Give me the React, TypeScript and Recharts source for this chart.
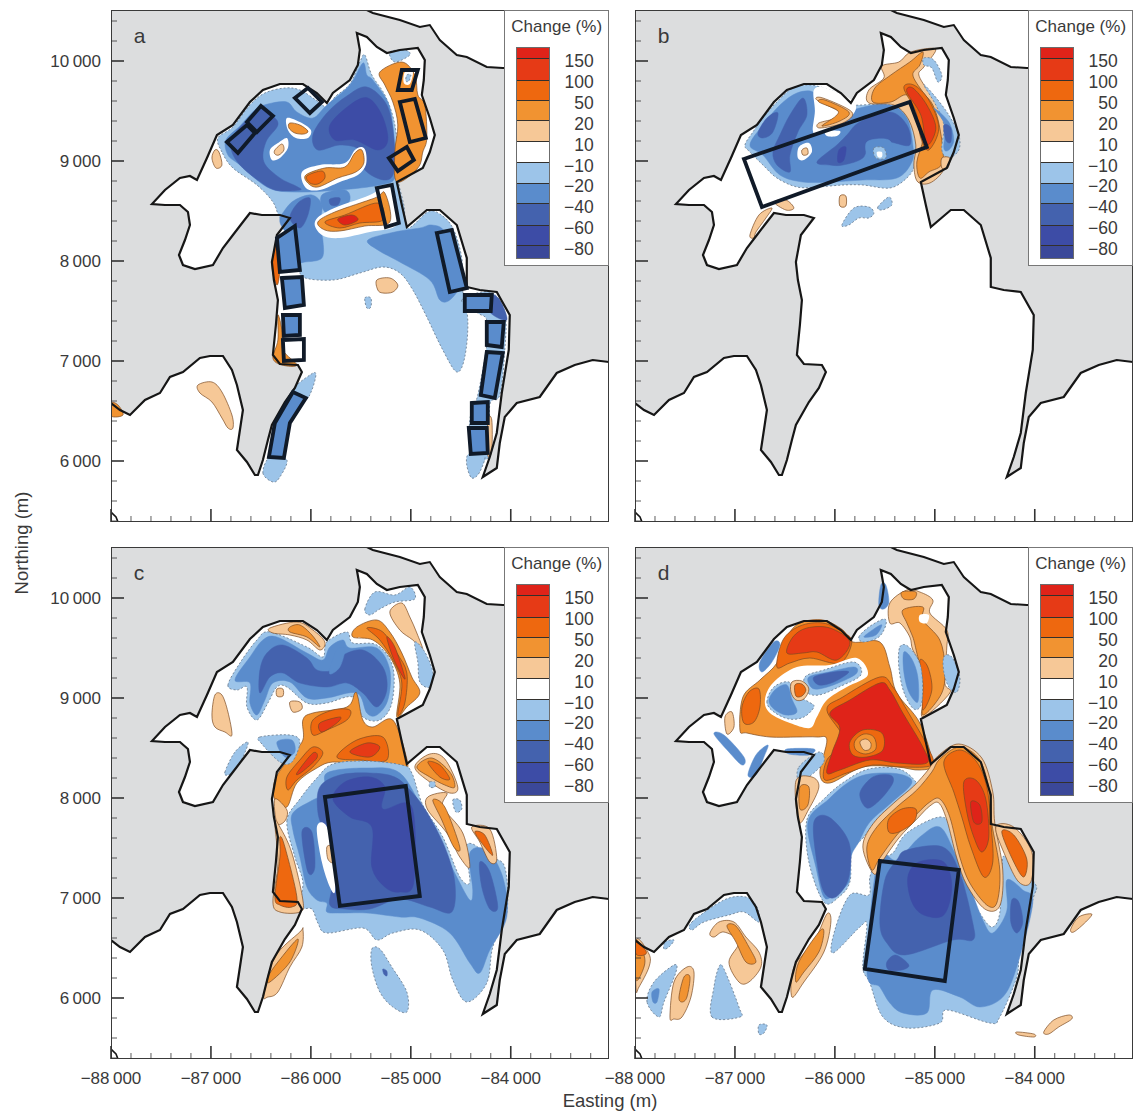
import { ScatterChart, Scatter, XAxis, YAxis } from 'recharts';

type Pair = number[];
type Fill = [number, Pair[]];
type Box = [number | null, Pair[]];

// shoreline, easting/northing in metres
const coastLine: Pair[] = [[-88000,6580],[-87910,6510],[-87810,6460],[-87660,6610],[-87510,6680],[-87410,6840],[-87280,6890],[-87110,7030],[-87010,7050],[-86880,7050],[-86790,6910],[-86740,6760],[-86680,6510],[-86710,6310],[-86740,6110],[-86640,5990],[-86560,5860],[-86530,5860],[-86480,6010],[-86430,6210],[-86390,6360],[-86260,6590],[-86160,6730],[-86090,6890],[-86130,6960],[-86310,6970],[-86380,7060],[-86350,7360],[-86330,7610],[-86370,7810],[-86390,7990],[-86340,8260],[-86210,8430],[-86310,8460],[-86490,8460],[-86610,8480],[-86680,8390],[-86780,8260],[-86880,8130],[-86980,7960],[-87160,7920],[-87280,7960],[-87320,8060],[-87260,8210],[-87210,8360],[-87230,8490],[-87310,8560],[-87460,8560],[-87590,8570],[-87460,8710],[-87310,8830],[-87210,8850],[-87140,8810],[-87040,9030],[-86940,9260],[-86780,9360],[-86610,9590],[-86480,9710],[-86310,9770],[-86080,9770],[-85940,9680],[-85840,9580],[-85780,9680],[-85610,9810],[-85530,9960],[-85510,10110],[-85540,10280],[-85440,10240],[-85340,10140],[-85240,10080],[-85110,10110],[-84930,10130],[-84860,10010],[-84870,9810],[-84890,9660],[-84810,9430],[-84760,9260],[-84810,9090],[-84880,8930],[-85010,8860],[-85140,8790],[-85090,8560],[-85040,8340],[-84840,8510],[-84710,8510],[-84540,8360],[-84440,8030],[-84440,7740],[-84310,7710],[-84140,7690],[-84010,7460],[-84020,7110],[-84090,6680],[-84140,6280],[-84210,6040],[-84280,5840],[-84140,5930],[-84110,6180],[-84060,6440],[-83940,6580],[-83710,6640],[-83540,6880],[-83360,6960],[-83180,7010],[-83017,6990]];
const northEastCoast: Pair[] = [[-85440,10510],[-85380,10480],[-85110,10410],[-84910,10340],[-84810,10360],[-84710,10210],[-84540,10060],[-84440,10040],[-84240,9940],[-84080,9930],[-83017,9930]];
const cornerCoast: Pair[] = [[-88000,5490],[-87950,5440],[-87930,5390]];

const xTicks = [-88000,-87800,-87600,-87400,-87200,-87000,-86800,-86600,-86400,-86200,-86000,-85800,-85600,-85400,-85200,-85000,-84800,-84600,-84400,-84200,-84000,-83800,-83600,-83400,-83200];
const yTicks = [5400,5600,5800,6000,6200,6400,6600,6800,7000,7200,7400,7600,7800,8000,8200,8400,8600,8800,9000,9200,9400,9600,9800,10000,10200,10400];
const xLabelled = [-88000,-87000,-86000,-85000,-84000];
const yLabelled = [6000,7000,8000,9000,10000];

const legendLevels = ['150','100','50','20','10','−10','−20','−40','−60','−80'];
const legendColours = ['#df2319','#e63a16','#ee680f','#f19331','#f6c897','#ffffff','#9cc4e9','#5a8ccc','#4462ae','#3d4ca6','#3b4899'];

const panelAFills: Fill[] = [
  [-10,[[-86890,9090],[-86930,9230],[-86780,9340],[-86610,9560],[-86460,9680],[-86260,9730],[-86110,9710],[-85950,9610],[-85840,9540],[-85760,9640],[-85610,9770],[-85510,9990],[-85460,10060],[-85390,9860],[-85260,9660],[-85170,9410],[-85130,9110],[-85130,8830],[-85070,8560],[-85030,8330],[-84830,8490],[-84710,8470],[-84580,8330],[-84490,8030],[-84490,7760],[-84430,7410],[-84460,7040],[-84540,6890],[-84680,7110],[-84840,7440],[-84980,7710],[-85110,7880],[-85280,7940],[-85510,7880],[-85780,7810],[-86080,7840],[-86110,7990],[-86160,8210],[-86310,8430],[-86380,8590],[-86540,8760],[-86780,8930]]],
  [-20,[[-86830,9060],[-86850,9210],[-86710,9350],[-86560,9510],[-86430,9570],[-86240,9590],[-86140,9490],[-85980,9430],[-85840,9560],[-85610,9760],[-85480,9980],[-85440,9860],[-85380,9810],[-85230,9590],[-85180,9360],[-85160,9090],[-85160,8830],[-85310,8760],[-85710,8710],[-86180,8690],[-86440,8740],[-86710,8960]]],
  [-20,[[-85430,8210],[-85160,8290],[-84910,8330],[-84790,8360],[-84660,8290],[-84560,7960],[-84510,7760],[-84610,7610],[-84710,7610],[-84810,7810],[-85110,7990],[-85330,8110]]],
  [-20,[[-86160,8610],[-85990,8660],[-85890,8560],[-85910,8360],[-85880,8210],[-85890,8030],[-86060,7990],[-86160,7990],[-86210,8210],[-86310,8390],[-86260,8510]]],
  [-40,[[-86210,8430],[-86130,8580],[-86010,8630],[-86030,8460],[-86110,8330]]],
  [-40,[[-86790,9230],[-86640,9410],[-86490,9530],[-86390,9460],[-86330,9360],[-86450,9190],[-86470,8990],[-86310,8830],[-86150,8750],[-86110,8710],[-86360,8710],[-86560,8830],[-86710,8960],[-86790,9090]]],
  [-40,[[-85980,9260],[-85840,9480],[-85640,9650],[-85440,9740],[-85240,9560],[-85170,9230],[-85170,8890],[-85270,8810],[-85460,8910],[-85510,9110],[-85710,9160],[-85930,9110]]],
  [-60,[[-85810,9360],[-85610,9560],[-85430,9630],[-85290,9460],[-85230,9210],[-85330,9110],[-85560,9210],[-85760,9210]]],
  [-20,[[-85890,8660],[-85660,8710],[-85610,8610],[-85710,8490],[-85860,8490]]],
  [-40,[[-85810,8620],[-85710,8630],[-85730,8560],[-85800,8560]]],
  [10,[[-86240,9430],[-86110,9390],[-86000,9310],[-86030,9230],[-86150,9230],[-86230,9310]]],
  [50,[[-86210,9380],[-86110,9360],[-86030,9300],[-86070,9270],[-86160,9280],[-86220,9330]]],
  [10,[[-86410,9110],[-86330,9180],[-86240,9230],[-86230,9130],[-86310,9030],[-86390,9010]]],
  [20,[[-86360,9110],[-86290,9170],[-86270,9110],[-86320,9060],[-86360,9070]]],
  [20,[[-86960,9110],[-86920,9090],[-86890,8960],[-86950,8930],[-86990,9030]]],
  [10,[[-86090,8890],[-85910,8960],[-85660,8980],[-85560,9110],[-85490,9140],[-85450,9090],[-85450,8960],[-85530,8860],[-85710,8790],[-85910,8710],[-86050,8730]]],
  [50,[[-86050,8860],[-85860,8930],[-85660,8940],[-85560,9080],[-85490,9110],[-85470,8980],[-85550,8890],[-85730,8830],[-85930,8740],[-86030,8780]]],
  [100,[[-86040,8850],[-85890,8900],[-85860,8830],[-85930,8770],[-86010,8780]]],
  [10,[[-85960,8390],[-85810,8510],[-85410,8660],[-85230,8760],[-85160,8610],[-85140,8360],[-85410,8290],[-85710,8230],[-85890,8260]]],
  [50,[[-85930,8390],[-85760,8490],[-85360,8630],[-85260,8680],[-85210,8390],[-85460,8350],[-85710,8300],[-85860,8310]]],
  [100,[[-85860,8390],[-85660,8460],[-85330,8580],[-85280,8410],[-85510,8380],[-85710,8330]]],
  [200,[[-85730,8420],[-85590,8460],[-85530,8410],[-85660,8360]]],
  [50,[[-85310,9890],[-85090,9990],[-84960,9860],[-84930,9660],[-84860,9560],[-84840,9230],[-84880,9090],[-84930,8930],[-85140,8790],[-85160,9090],[-85130,9360],[-85180,9590],[-85260,9760]]],
  [10,[[-85060,9890],[-84980,9890],[-85010,9770],[-85070,9780]]],
  [-10,[[-85040,9860],[-85000,9860],[-85020,9800],[-85050,9800]]],
  [-10,[[-85210,10090],[-85060,10110],[-85010,10060],[-85160,9990]]],
  [100,[[-86390,7960],[-86340,8210],[-86310,8160],[-86310,7910],[-86340,7760]]],
  [50,[[-86330,7460],[-86290,7310],[-86280,7110],[-86140,6960],[-86290,6960],[-86380,7030],[-86330,7210]]],
  [-10,[[-84490,7610],[-84210,7690],[-84060,7490],[-84060,7110],[-84110,6660],[-84210,6560],[-84210,6060],[-84390,6060],[-84410,6410],[-84330,6660],[-84240,7160],[-84240,7410],[-84330,7480]]],
  [-40,[[-84210,7660],[-84110,7610],[-84040,7410],[-84210,7490]]],
  [-10,[[-84420,6070],[-84260,6070],[-84310,5890],[-84390,5830],[-84440,5960]]],
  [20,[[-84230,6410],[-84190,6410],[-84190,6110],[-84230,6060]]],
  [-10,[[-86480,5880],[-86380,5790],[-86310,5840],[-86240,6010],[-86410,6040]]],
  [-10,[[-86180,6710],[-86010,6860],[-85950,6870],[-85990,6710],[-86060,6610]]],
  [20,[[-85340,7810],[-85210,7830],[-85130,7760],[-85180,7690],[-85280,7680],[-85330,7710]]],
  [-10,[[-85460,7630],[-85400,7630],[-85400,7540],[-85440,7530]]],
  [20,[[-87130,6760],[-86990,6790],[-86890,6690],[-86790,6460],[-86780,6330],[-86830,6330],[-86890,6430],[-86990,6590],[-87110,6680]]],
  [50,[[-88000,6580],[-87930,6560],[-87880,6460],[-88000,6450]]],
];

const panelABoxes: Box[] = [
  [-40,[[-86840,9190],[-86640,9360],[-86560,9280],[-86730,9080]]],
  [-40,[[-86640,9390],[-86500,9550],[-86380,9450],[-86540,9290]]],
  [null,[[-86160,9630],[-86030,9730],[-85890,9590],[-86010,9480]]],
  [null,[[-85090,9910],[-84930,9910],[-84990,9710],[-85130,9710]]],
  [null,[[-85110,9590],[-84960,9620],[-84850,9230],[-85010,9190]]],
  [null,[[-85220,9030],[-85040,9140],[-84970,9010],[-85130,8900]]],
  [null,[[-85340,8730],[-85190,8760],[-85120,8380],[-85250,8340]]],
  [-20,[[-86340,8230],[-86160,8350],[-86110,7910],[-86310,7890]]],
  [-20,[[-86290,7830],[-86090,7840],[-86070,7560],[-86260,7530]]],
  [-20,[[-86280,7460],[-86110,7460],[-86110,7260],[-86270,7250]]],
  [null,[[-86280,7210],[-86070,7220],[-86070,7010],[-86270,7000]]],
  [-20,[[-86180,6690],[-86050,6630],[-86210,6380],[-86270,6030],[-86420,6040],[-86360,6380]]],
  [-20,[[-84740,8280],[-84590,8310],[-84440,7730],[-84610,7690]]],
  [-20,[[-84460,7660],[-84190,7660],[-84200,7500],[-84460,7500]]],
  [-20,[[-84240,7390],[-84070,7390],[-84090,7140],[-84240,7160]]],
  [-20,[[-84240,7090],[-84080,7080],[-84160,6630],[-84300,6660]]],
  [-20,[[-84390,6580],[-84230,6590],[-84230,6380],[-84390,6380]]],
  [-20,[[-84420,6330],[-84240,6330],[-84230,6080],[-84400,6070]]],
];

const panelBFills: Fill[] = [
  [-10,[[-86900,9160],[-86820,9290],[-86720,9430],[-86580,9590],[-86420,9730],[-86250,9760],[-86050,9710],[-85880,9630],[-85850,9560],[-85450,9560],[-85250,9430],[-85180,9160],[-85200,8960],[-85280,8830],[-85450,8730],[-85720,8760],[-85920,8760],[-86180,8740],[-86380,8740],[-86580,8830],[-86720,8960],[-86850,9090]]],
  [-20,[[-86850,9160],[-86720,9360],[-86550,9560],[-86380,9680],[-86220,9690],[-86180,9560],[-86050,9490],[-86120,9390],[-85750,9530],[-85450,9560],[-85280,9430],[-85220,9160],[-85230,8990],[-85380,8830],[-85720,8810],[-86050,8790],[-86320,8790],[-86550,8860],[-86720,9060]]],
  [-40,[[-86450,9460],[-86320,9630],[-86280,9460],[-86370,9290],[-86450,9060],[-86450,8890],[-86580,8960],[-86620,9090],[-86550,9260]]],
  [-40,[[-86680,9430],[-86570,9480],[-86620,9290],[-86720,9230],[-86770,9280]]],
  [-40,[[-86180,8990],[-85980,9160],[-85880,9260],[-85750,9390],[-85450,9490],[-85280,9360],[-85250,9160],[-85450,9190],[-85650,9190],[-85720,9030],[-85920,8960],[-86050,8960]]],
  [-60,[[-85960,9110],[-85890,9140],[-85910,9010],[-85970,8990]]],
  [-20,[[-85680,9190],[-85460,9210],[-85430,9060],[-85560,8960],[-85660,9010]]],
  [-10,[[-85610,9130],[-85510,9130],[-85490,9030],[-85590,9030]]],
  [10,[[-85580,9090],[-85530,9090],[-85530,9040],[-85570,9040]]],
  [10,[[-86360,9140],[-86260,9180],[-86230,9090],[-86310,9010],[-86370,9030]]],
  [20,[[-86330,9110],[-86280,9130],[-86270,9070],[-86320,9060]]],
  [10,[[-86210,9710],[-86090,9730],[-85800,9580],[-85870,9410],[-86150,9280],[-86220,9300],[-86200,9500]]],
  [20,[[-86180,9610],[-86120,9630],[-85830,9490],[-85920,9380],[-86150,9330],[-86160,9380],[-85980,9430],[-85950,9490]]],
  [50,[[-86160,9590],[-86100,9610],[-85860,9490],[-85950,9400],[-86130,9350],[-85990,9450],[-85980,9510]]],
  [10,[[-86090,9300],[-85950,9300],[-85980,9250],[-86080,9250]]],
  [20,[[-85660,9580],[-85660,9710],[-85510,9830],[-85530,9950],[-85360,9990],[-85260,10080],[-85110,10120],[-84990,10110],[-85110,9940],[-85160,9860],[-85060,9690],[-84960,9560],[-84860,9310],[-84890,8960],[-85030,8790],[-85170,8790],[-85210,8960],[-85190,9160],[-85260,9410],[-85410,9560]]],
  [50,[[-85620,9590],[-85600,9730],[-85440,9860],[-85250,9990],[-85120,10090],[-85150,9960],[-85220,9860],[-85120,9690],[-85020,9560],[-84950,9330],[-84920,8990],[-85060,8890],[-85150,8830],[-85180,8990],[-85120,9230],[-85180,9490],[-85280,9660],[-85440,9590]]],
  [100,[[-85310,9730],[-85210,9760],[-85060,9610],[-84960,9330],[-85060,9110],[-85140,9230],[-85190,9490]]],
  [150,[[-85280,9690],[-85220,9730],[-85080,9560],[-84990,9330],[-85080,9160],[-85140,9460]]],
  [-10,[[-85110,9760],[-85010,9660],[-84860,9460],[-84760,9260],[-84760,9110],[-84860,9030],[-84930,9110],[-84910,9360],[-84990,9560]]],
  [-20,[[-85010,9530],[-84860,9390],[-84810,9210],[-84860,9110],[-84910,9130],[-84900,9360]]],
  [-40,[[-84910,9360],[-84840,9330],[-84840,9190],[-84890,9210]]],
  [-10,[[-85110,10030],[-85010,10010],[-84930,9860],[-84970,9790],[-85030,9930],[-85110,9960]]],
  [20,[[-84930,9030],[-84850,9030],[-84870,8930],[-84930,8930]]],
  [20,[[-85950,8650],[-85890,8650],[-85890,8550],[-85950,8550]]],
  [-10,[[-85930,8360],[-85810,8530],[-85660,8540],[-85610,8480],[-85660,8430],[-85760,8430],[-85860,8360]]],
  [-10,[[-85570,8540],[-85460,8640],[-85430,8560],[-85530,8510]]],
  [20,[[-86850,8260],[-86760,8460],[-86630,8530],[-86690,8430],[-86790,8290],[-86810,8230]]],
  [20,[[-86610,8590],[-86490,8610],[-86410,8530],[-86490,8510]]],
];

const panelBBoxes: Box[] = [
  [null,[[-86910,9020],[-85250,9590],[-85080,9140],[-86730,8540]]],
];

const panelCFills: Fill[] = [
  [-10,[[-86830,9130],[-86710,9350],[-86540,9580],[-86410,9660],[-86040,9510],[-85880,9410],[-85840,9560],[-85640,9660],[-85580,9550],[-85340,9530],[-85180,9310],[-85190,8950],[-85310,8780],[-85480,8810],[-85580,9010],[-85840,8950],[-86040,8950],[-86240,9110],[-86340,9110],[-86430,8950],[-86540,8780],[-86640,8910],[-86640,9110],[-86740,9080]]],
  [-20,[[-86760,9180],[-86610,9410],[-86480,9580],[-86340,9610],[-86040,9450],[-85880,9380],[-85810,9510],[-85680,9580],[-85610,9500],[-85340,9500],[-85210,9280],[-85230,8980],[-85340,8830],[-85440,8850],[-85540,9050],[-85840,9000],[-86040,9000],[-86210,9160],[-86380,9150],[-86460,8980],[-86540,8830],[-86610,8950],[-86610,9150]]],
  [-40,[[-86510,9280],[-86440,9450],[-86280,9530],[-86040,9400],[-85940,9280],[-85780,9280],[-85710,9410],[-85480,9480],[-85280,9310],[-85240,9080],[-85340,8910],[-85480,9050],[-85640,9150],[-85840,9110],[-86110,9150],[-86280,9250],[-86410,9210],[-86510,9050]]],
  [-20,[[-85790,9360],[-85730,9490],[-85660,9490],[-85710,9310],[-85810,9240]]],
  [20,[[-86410,9700],[-86140,9760],[-85980,9680],[-85860,9560],[-85910,9480],[-86040,9580],[-86210,9630],[-86380,9650]]],
  [50,[[-86210,9710],[-86110,9730],[-85990,9630],[-85910,9510],[-86040,9610],[-86210,9660]]],
  [50,[[-85580,9610],[-85540,9710],[-85340,9780],[-85210,9660],[-85090,9450],[-84990,9210],[-84910,9050],[-85040,8910],[-85140,8810],[-85110,9150],[-85210,9410],[-85380,9580]]],
  [100,[[-85440,9700],[-85280,9660],[-85140,9450],[-85040,9250],[-85060,8950],[-85130,8830],[-85090,9150],[-85180,9380],[-85310,9580]]],
  [150,[[-85240,9610],[-85160,9510],[-85060,9210],[-85090,9230],[-85180,9410]]],
  [20,[[-85210,9860],[-85090,9950],[-85010,9810],[-84940,9650],[-84880,9480],[-84980,9580],[-85110,9680]]],
  [-10,[[-85460,9890],[-85360,10060],[-85160,10030],[-85010,10110],[-84960,9990],[-85160,9960],[-85310,9890],[-85410,9830]]],
  [-10,[[-84960,9560],[-84860,9460],[-84780,9260],[-84810,9110],[-84910,9160],[-84930,9360]]],
  [50,[[-86080,8780],[-85980,8850],[-85640,8910],[-85560,9050],[-85530,9010],[-85480,8780],[-85380,8710],[-85180,8780],[-85040,8390],[-85060,8280],[-85240,8300],[-85510,8330],[-85780,8360],[-85940,8300],[-86140,8150],[-86240,7910],[-86360,7980],[-86360,8180],[-86210,8410],[-86080,8580]]],
  [100,[[-85980,8780],[-85780,8880],[-85610,8880],[-85640,8780],[-85840,8680],[-85980,8630]]],
  [150,[[-85910,8750],[-85710,8810],[-85740,8750],[-85890,8660]]],
  [100,[[-85740,8410],[-85540,8580],[-85280,8610],[-85240,8380],[-85510,8380]]],
  [150,[[-85610,8460],[-85440,8550],[-85310,8510],[-85410,8410]]],
  [100,[[-86240,8210],[-86110,8380],[-85980,8510],[-85880,8450],[-85980,8310],[-86140,8180],[-86230,8080]]],
  [150,[[-86140,8250],[-85980,8450],[-85940,8400],[-86090,8260]]],
  [-10,[[-86510,8610],[-86210,8630],[-86110,8560],[-86190,8360],[-86310,8360],[-86490,8540]]],
  [-20,[[-86340,8560],[-86190,8580],[-86160,8460],[-86260,8410]]],
  [-10,[[-86860,8260],[-86760,8460],[-86630,8560],[-86680,8410],[-86760,8280],[-86830,8230]]],
  [20,[[-86960,9030],[-86890,9030],[-86830,8860],[-86790,8630],[-86860,8660],[-86960,8710],[-86990,8830]]],
  [20,[[-86340,9090],[-86280,9090],[-86280,9020],[-86340,9020]]],
  [20,[[-86210,8960],[-86110,8960],[-86090,8890],[-86180,8860]]],
  [-10,[[-86240,7770],[-86110,7990],[-85940,8200],[-85780,8340],[-85450,8370],[-85090,8330],[-84990,8250],[-84880,7930],[-84680,7610],[-84510,7210],[-84410,7160],[-84450,7490],[-84380,7540],[-84210,7410],[-84060,7310],[-84040,6850],[-84180,6510],[-84240,6150],[-84440,5960],[-84580,6180],[-84680,6480],[-84910,6680],[-85180,6650],[-85340,6580],[-85480,6700],[-85840,6650],[-85930,6750],[-85990,6890],[-86110,6910],[-86080,7160],[-86160,7410]]],
  [-20,[[-86180,7850],[-85980,7980],[-85840,8050],[-85840,8250],[-85440,8300],[-85110,8250],[-84880,7880],[-84710,7550],[-84540,7210],[-84410,6980],[-84380,7080],[-84410,7450],[-84240,7480],[-84080,7210],[-84040,6810],[-84210,6480],[-84310,6250],[-84410,6350],[-84610,6650],[-84910,6800],[-85110,6810],[-85440,6850],[-85710,6850],[-85840,6860],[-85840,6950],[-85940,6980],[-86040,7110],[-86110,7410],[-86180,7680]]],
  [-40,[[-85910,8110],[-85710,8230],[-85410,8250],[-85160,8210],[-84990,8060],[-84840,7860],[-84660,7510],[-84560,7160],[-84590,6860],[-84810,6910],[-85110,6990],[-85410,6890],[-85660,6890],[-85810,6930],[-85790,7160],[-85860,7610],[-85930,7860]]],
  [-60,[[-85780,7990],[-85660,8160],[-85410,8210],[-85260,8110],[-85280,7890],[-84990,7910],[-84970,7160],[-85110,7060],[-85260,7110],[-85390,7310],[-85390,7710],[-85610,7810]]],
  [-40,[[-86090,7660],[-85990,7660],[-85960,7310],[-86030,7260]]],
  [-40,[[-84310,7360],[-84210,7260],[-84130,6910],[-84210,6890],[-84290,7110]]],
  [10,[[-85940,7710],[-85840,7710],[-85760,7310],[-85760,7060],[-85810,7110],[-85890,7360]]],
  [20,[[-85840,7510],[-85790,7510],[-85780,7360],[-85830,7390]]],
  [20,[[-86360,7990],[-86240,7880],[-86260,7770],[-86340,7750]]],
  [20,[[-86360,7750],[-86310,7710],[-86190,7450],[-86080,6980],[-86110,6860],[-86310,6860],[-86380,6960],[-86330,7350]]],
  [100,[[-86310,7610],[-86260,7510],[-86140,7010],[-86190,6910],[-86310,6930],[-86360,7010],[-86310,7410]]],
  [20,[[-84960,8310],[-84810,8440],[-84660,8390],[-84530,8110],[-84610,8050],[-84810,8160]]],
  [50,[[-84940,8310],[-84790,8400],[-84610,8260],[-84560,8110],[-84660,8130],[-84810,8210]]],
  [100,[[-84830,8360],[-84710,8330],[-84610,8190],[-84710,8210]]],
  [20,[[-84830,8010],[-84640,8050],[-84680,7910],[-84480,7650],[-84410,7310],[-84510,7410],[-84640,7650],[-84830,7880]]],
  [50,[[-84780,7980],[-84660,7910],[-84510,7510],[-84570,7510],[-84690,7780]]],
  [-10,[[-84580,7980],[-84510,7980],[-84490,7890],[-84550,7860]]],
  [-10,[[-84810,8160],[-84760,8160],[-84760,8110],[-84810,8110]]],
  [20,[[-84390,7710],[-84210,7690],[-84140,7390],[-84210,7360],[-84310,7560]]],
  [100,[[-84360,7660],[-84260,7630],[-84180,7430],[-84260,7510]]],
  [20,[[-86470,6030],[-86360,6410],[-86110,6660],[-86080,6690],[-86090,6510],[-86210,6310],[-86330,6060],[-86430,6010]]],
  [50,[[-86430,6210],[-86330,6360],[-86130,6590],[-86210,6360],[-86410,6160]]],
  [-10,[[-85390,6490],[-85310,6490],[-85190,6310],[-85040,6060],[-85040,5860],[-85180,5910],[-85310,6060],[-85390,6310]]],
  [-40,[[-85280,6290],[-85240,6270],[-85240,6220],[-85270,6240]]],
];

const panelCBoxes: Box[] = [
  [null,[[-85860,8010],[-85050,8120],[-84910,7020],[-85710,6920]]],
];

const panelDFills: Fill[] = [
  [50,[[-86950,8680],[-86920,9010],[-86750,9180],[-86580,9350],[-86480,9610],[-86350,9750],[-86120,9780],[-85920,9680],[-85820,9560],[-85550,9560],[-85450,9310],[-85380,9050],[-85150,8750],[-85030,8350],[-85150,8280],[-85380,8310],[-85720,8310],[-86050,8150],[-86150,8250],[-86080,8580],[-86180,8610],[-86380,8610],[-86650,8610],[-86880,8650]]],
  [100,[[-86580,9310],[-86520,9580],[-86350,9720],[-86120,9750],[-85920,9660],[-85830,9560],[-85950,9350],[-86250,9400],[-86450,9350]]],
  [150,[[-86480,9450],[-86420,9610],[-86280,9700],[-86050,9700],[-85850,9560],[-85980,9380],[-86180,9460],[-86320,9450]]],
  [10,[[-86700,8980],[-86620,9150],[-86380,9310],[-86050,9330],[-85780,9400],[-85670,9230],[-85880,9110],[-86080,8980],[-86180,8810],[-86250,8700],[-86450,8750],[-86650,8850]]],
  [-10,[[-86300,9210],[-86110,9280],[-85810,9360],[-85740,9230],[-85960,9110],[-86160,9030],[-86280,9060]]],
  [-20,[[-86260,9210],[-86060,9260],[-85810,9310],[-85790,9240],[-85990,9140],[-86160,9090],[-86240,9110]]],
  [-40,[[-86210,9210],[-86010,9260],[-85860,9260],[-86010,9160],[-86160,9130]]],
  [-10,[[-86680,8960],[-86610,9110],[-86460,9160],[-86390,9030],[-86260,8960],[-86210,8910],[-86310,8810],[-86460,8790],[-86610,8860]]],
  [-20,[[-86660,8980],[-86590,9090],[-86480,9130],[-86430,8990],[-86380,8860],[-86490,8830],[-86610,8890]]],
  [20,[[-86430,9160],[-86330,9170],[-86260,9090],[-86310,8990],[-86390,8980],[-86440,9060]]],
  [100,[[-86400,9130],[-86330,9140],[-86290,9080],[-86330,9020],[-86390,9020]]],
  [100,[[-86930,8910],[-86860,9060],[-86760,9090],[-86750,8910],[-86810,8760],[-86910,8750]]],
  [100,[[-86080,8880],[-85920,9010],[-85550,9210],[-85420,9110],[-85280,8880],[-85070,8510],[-85030,8330],[-85320,8310],[-85620,8330],[-85880,8250],[-86100,8180],[-86080,8380],[-85910,8580]]],
  [200,[[-86050,8850],[-85850,8980],[-85550,9150],[-85450,9080],[-85320,8850],[-85120,8510],[-85080,8350],[-85380,8350],[-85650,8380],[-85950,8280],[-86080,8250],[-86030,8450],[-85950,8700]]],
  [100,[[-85850,8560],[-85720,8680],[-85530,8650],[-85520,8480],[-85680,8410],[-85820,8430]]],
  [50,[[-85800,8570],[-85710,8640],[-85610,8610],[-85590,8490],[-85690,8440],[-85790,8480]]],
  [20,[[-85750,8560],[-85690,8590],[-85640,8550],[-85650,8490],[-85710,8480]]],
  [20,[[-85450,9950],[-85280,10080],[-85150,10060],[-85020,9980],[-85050,9850],[-84880,9680],[-84880,9510],[-84900,9150],[-84850,9050],[-85120,8810],[-85100,9050],[-85110,9280],[-85220,9480],[-85250,9610],[-85350,9750],[-85450,9750]]],
  [50,[[-85320,9880],[-85120,9910],[-85120,9780],[-84950,9580],[-84900,9310],[-84930,9050],[-85120,8830],[-85100,9110],[-85180,9450],[-85220,9610],[-85280,9750]]],
  [100,[[-85150,9380],[-85070,9310],[-85030,9080],[-85120,8880],[-85120,9150]]],
  [10,[[-85150,9830],[-85060,9830],[-85080,9750],[-85150,9760]]],
  [50,[[-85330,10060],[-85190,10060],[-85210,9990],[-85310,9990]]],
  [-10,[[-85350,9510],[-85260,9510],[-85140,9310],[-85130,8960],[-85210,8890],[-85310,9060],[-85360,9310]]],
  [-20,[[-85310,9460],[-85230,9390],[-85170,9210],[-85170,8960],[-85260,9060],[-85310,9260]]],
  [-10,[[-85760,9610],[-85660,9710],[-85510,9790],[-85490,9730],[-85560,9610],[-85710,9560]]],
  [-20,[[-85710,9610],[-85610,9690],[-85530,9730],[-85590,9630]]],
  [-20,[[-85540,10130],[-85490,10130],[-85460,9960],[-85510,9890],[-85560,9930]]],
  [-10,[[-84910,9410],[-84830,9410],[-84750,9210],[-84780,9060],[-84860,9110],[-84910,9260]]],
  [-20,[[-86750,9360],[-86610,9560],[-86550,9530],[-86630,9360],[-86730,9260]]],
  [20,[[-87100,8810],[-87030,8860],[-87010,8710],[-87080,8640]]],
  [-20,[[-87210,8640],[-87110,8630],[-86910,8410],[-86930,8330],[-87060,8460]]],
  [-20,[[-86870,8230],[-86790,8430],[-86670,8530],[-86710,8410],[-86790,8230]]],
  [-20,[[-86480,8490],[-86210,8490],[-86260,8430],[-86460,8440]]],
  [-10,[[-86360,8310],[-86160,8460],[-86110,8360],[-86260,8210],[-86360,8160]]],
  [20,[[-86390,8170],[-86230,8210],[-86160,8110],[-86260,7890],[-86360,7760]]],
  [50,[[-86350,8110],[-86260,8110],[-86270,7930],[-86350,7890]]],
  [-10,[[-86280,7780],[-86110,7990],[-85910,8160],[-85660,8290],[-85360,8290],[-85190,8160],[-85190,8060],[-85510,7860],[-85710,7610],[-85830,7460],[-85850,7160],[-85960,7010],[-86110,6960],[-86260,7360]]],
  [-10,[[-85720,6310],[-85650,6150],[-85520,5810],[-85280,5700],[-84950,5750],[-84880,5880],[-84450,5750],[-84350,5810],[-84180,6210],[-84150,6480],[-84020,6980],[-84000,7150],[-84280,7410],[-84330,7310],[-84350,6850],[-84430,6710],[-84550,6850],[-84650,7050],[-84720,7350],[-84820,7680],[-84950,7810],[-85280,7650],[-85420,7450],[-85570,7380],[-85650,7210],[-85660,7030],[-85850,7030],[-86000,6680],[-86020,6450],[-85750,6710],[-85680,6730]]],
  [-20,[[-86270,7760],[-86060,7990],[-85860,8160],[-85660,8240],[-85360,8240],[-85230,8150],[-85450,7940],[-85650,7760],[-85760,7560],[-85840,7410],[-85860,7160],[-86010,7030],[-86110,7010],[-86190,7310]]],
  [-40,[[-86210,7760],[-86060,7810],[-85860,7560],[-85860,7210],[-85990,7010],[-86110,7060],[-86180,7360]]],
  [-40,[[-85750,8050],[-85620,8210],[-85450,8230],[-85420,8150],[-85550,7980],[-85680,7900]]],
  [-20,[[-85380,7380],[-85150,7610],[-84950,7710],[-84800,7450],[-84650,7110],[-84520,6780],[-84420,6650],[-84280,6870],[-84280,7180],[-84120,7080],[-84020,6950],[-84180,6310],[-84320,6010],[-84550,5910],[-84750,6010],[-85020,6080],[-85080,5850],[-85320,5850],[-85450,5950],[-85550,6110],[-85680,6280],[-85570,7380]]],
  [-40,[[-85380,7380],[-85280,7480],[-84920,7510],[-84750,7250],[-84620,6750],[-84620,6580],[-84820,6580],[-85300,6430],[-85480,6550],[-85550,6750],[-85500,7180]]],
  [-60,[[-85270,7210],[-85160,7360],[-84910,7360],[-84830,7110],[-84910,6830],[-85110,6830],[-85230,6960]]],
  [-40,[[-85480,6360],[-85390,6430],[-85260,6330],[-85330,6280],[-85460,6280]]],
  [-40,[[-84230,6980],[-84160,6960],[-84120,6760],[-84180,6650],[-84240,6760]]],
  [20,[[-85720,7510],[-85620,7740],[-85410,7950],[-85210,8120],[-85060,8290],[-84970,8420],[-84760,8540],[-84530,8400],[-84420,8060],[-84400,7750],[-84320,7280],[-84350,6920],[-84500,6890],[-84680,7130],[-84780,7400],[-84880,7780],[-84960,7950],[-85050,7920],[-85170,7800],[-85360,7600],[-85530,7360],[-85610,7240]]],
  [50,[[-85680,7510],[-85580,7710],[-85380,7910],[-85180,8080],[-85030,8260],[-84950,8390],[-84750,8510],[-84550,8380],[-84450,8050],[-84430,7750],[-84350,7280],[-84380,6950],[-84480,6930],[-84650,7150],[-84750,7410],[-84850,7810],[-84950,7990],[-85050,7960],[-85180,7840],[-85380,7630],[-85550,7400],[-85630,7280]]],
  [100,[[-84910,8360],[-84750,8480],[-84580,8360],[-84480,8110],[-84440,7760],[-84420,7360],[-84510,7210],[-84640,7510],[-84730,7810],[-84810,8060]]],
  [150,[[-84710,8160],[-84590,8180],[-84490,7990],[-84460,7610],[-84530,7460],[-84610,7610],[-84680,7860]]],
  [200,[[-84640,7960],[-84550,7930],[-84530,7760],[-84610,7760]]],
  [100,[[-85460,7790],[-85330,7890],[-85190,7890],[-85210,7760],[-85360,7660],[-85460,7660]]],
  [20,[[-84390,7710],[-84210,7710],[-84030,7460],[-84040,7160],[-84160,7160],[-84290,7410]]],
  [100,[[-84330,7660],[-84210,7630],[-84080,7390],[-84110,7210],[-84210,7360]]],
  [20,[[-86430,6010],[-86410,6310],[-86210,6560],[-86080,6840],[-86040,6760],[-86110,6460],[-86310,6160]]],
  [50,[[-86390,6160],[-86360,6360],[-86160,6660],[-86110,6660],[-86160,6460],[-86310,6260]]],
  [20,[[-87250,6650],[-87160,6760],[-87010,6760],[-86890,6610],[-86760,6460],[-86740,6310],[-86860,6160],[-86960,6160],[-87060,6360],[-86960,6560],[-87110,6660],[-87210,6610]]],
  [50,[[-87080,6720],[-86990,6720],[-86860,6510],[-86790,6360],[-86890,6360],[-86990,6560]]],
  [20,[[-87650,5810],[-87610,6160],[-87480,6310],[-87410,6260],[-87440,6010],[-87530,5810],[-87610,5790]]],
  [50,[[-87560,6010],[-87510,6210],[-87450,6210],[-87480,6010],[-87530,5960]]],
  [-10,[[-87230,5810],[-87210,6110],[-87160,6310],[-87110,6290],[-86960,5910],[-86950,5810]]],
  [-10,[[-87880,5960],[-87810,6160],[-87610,6330],[-87590,6260],[-87710,5960],[-87760,5810]]],
  [-20,[[-87830,6060],[-87760,6090],[-87780,5960],[-87820,5960]]],
  [20,[[-87990,6580],[-87860,6440],[-87860,6310],[-87960,6110],[-87990,6090]]],
  [50,[[-87990,6560],[-87910,6430],[-87910,6310],[-87990,6180]]],
  [100,[[-87990,6580],[-87890,6470],[-87910,6430],[-87990,6440]]],
  [-10,[[-87430,6760],[-87110,6980],[-86890,7010],[-86780,6910],[-86760,6760],[-86910,6860],[-87060,6830],[-87310,6760],[-87430,6680]]],
  [-10,[[-87700,6560],[-87610,6580],[-87660,6510],[-87710,6490]]],
  [-10,[[-86760,5730],[-86680,5730],[-86710,5650],[-86760,5640]]],
  [20,[[-83910,5660],[-83810,5780],[-83660,5830],[-83630,5790],[-83760,5710],[-83860,5640]]],
  [20,[[-84180,5660],[-84010,5640],[-84010,5610],[-84160,5630]]],
  [20,[[-83640,6690],[-83560,6810],[-83430,6840],[-83490,6760],[-83610,6660]]],
];

const panelDBoxes: Box[] = [
  [null,[[-85550,7370],[-84760,7280],[-84900,6170],[-85700,6290]]],
];

const xMin = -88000;
const xMax = -83017;
const yMin = 5390;
const yMax = 10510;

const toRows = (pts: Pair[]) => pts.map(([x, y]) => ({ x, y }));
const noDot = () => <g />;

const fillColour: Record<string, string> = {
  '200': '#df2319', '150': '#e63a16', '100': '#ee680f', '50': '#f19331', '20': '#f6c897', '10': '#ffffff',
  '-10': '#9cc4e9', '-20': '#5a8ccc', '-40': '#4462ae', '-60': '#3d4ca6',
};

function outline(level: number) {
  if (level === 10) return { stroke: 'none' };
  if (level === -10) return { stroke: '#6f8296', strokeWidth: 0.9, strokeDasharray: '2 2' };
  if (level < 0) return { stroke: fillColour[level], strokeWidth: 0.5 };
  return { stroke: '#7b4a22', strokeWidth: 0.7 };
}

// closed catmull-rom through the scaled points the Scatter hands to its line
function closedSpline(pts: { x: number; y: number }[]) {
  const n = pts.length;
  let d = `M${pts[0].x},${pts[0].y}`;
  for (let i = 0; i < n; i++) {
    const p0 = pts[(i - 1 + n) % n];
    const p1 = pts[i];
    const p2 = pts[(i + 1) % n];
    const p3 = pts[(i + 2) % n];
    const c1x = p1.x + (p2.x - p0.x) / 6;
    const c1y = p1.y + (p2.y - p0.y) / 6;
    const c2x = p2.x - (p3.x - p1.x) / 6;
    const c2y = p2.y - (p3.y - p1.y) / 6;
    d += `C${c1x},${c1y} ${c2x},${c2y} ${p2.x},${p2.y}`;
  }
  return d + 'Z';
}

const blobLine = (level: number) => (props: any) => (
  <path d={closedSpline(props.points)} fill={fillColour[level]} {...outline(level)} />
);

function XTick({ x, y, payload, labelled }: any) {
  const major = xLabelled.includes(payload.value);
  return (
    <g>
      <line x1={x} x2={x} y1={y} y2={y - (major ? 13 : 6)} stroke="#333" strokeWidth={major ? 1.6 : 0.8} />
      {labelled && major && (
        <text x={x} y={y + 25} textAnchor="middle" fontSize={17} fill="#3a3a3a">
          {'−' + Math.abs(payload.value / 1000) + '\u2009000'}
        </text>
      )}
    </g>
  );
}

function YTick({ x, y, payload, labelled }: any) {
  const major = yLabelled.includes(payload.value);
  return (
    <g>
      <line x1={x} x2={x + (major ? 13 : 6)} y1={y} y2={y} stroke="#333" strokeWidth={major ? 1.6 : 0.8} />
      {labelled && major && (
        <text x={x - 10} y={y + 6} textAnchor="end" fontSize={17} fill="#3a3a3a">
          {payload.value / 1000 + '\u2009000'}
        </text>
      )}
    </g>
  );
}

function ChangeLegend({ left, top }: { left: number; top: number }) {
  const heights = [11, 22, 20, 20, 21, 21, 21, 20, 22, 20, 12];
  return (
    <div style={{ position: 'absolute', left, top, width: 105, height: 256, background: '#fff', border: '1.5px solid #777', boxSizing: 'border-box' }}>
      <div style={{ position: 'absolute', left: 0, width: 104, top: 6, textAlign: 'center', fontSize: 17, color: '#3a3a3a', whiteSpace: 'nowrap' }}>Change (%)</div>
      <div style={{ position: 'absolute', left: 11, top: 36, width: 32, border: '1px solid #6c6c6c' }}>
        {legendColours.map((c, i) => (
          <div key={c} style={{ height: heights[i], background: c, boxSizing: 'border-box', borderBottom: i < 10 ? '1px solid #33302c' : 'none' }} />
        ))}
      </div>
      {legendLevels.map((t, i) => (
        <div key={t} style={{ position: 'absolute', right: 14, top: 41 + i * 20.9, fontSize: 17.5, lineHeight: '18px', color: '#3a3a3a' }}>{t}</div>
      ))}
    </div>
  );
}

function Panel({ left, top, letter, fills, boxes, xLabels, yLabels }: { left: number; top: number; letter: string; fills: Fill[]; boxes: Box[]; xLabels: boolean; yLabels: boolean }) {
  const land = toRows([[xMin, yMin], [xMin, yMax], [xMax, yMax], [xMax, yMin]]);
  const sea = toRows([...coastLine, [xMax, yMin], [xMin, yMin]]);
  const bay = toRows([...northEastCoast, [xMax, yMax]]);
  return (
    <>
      <div style={{ position: 'absolute', left: left - 60, top: top - 10 }}>
        <ScatterChart width={560} height={562} margin={{ top: 10, right: 2, bottom: 0, left: 0 }}>
          <XAxis type="number" dataKey="x" domain={[xMin, xMax]} ticks={xTicks} interval={0} height={40} axisLine={false} tickLine={false} tickSize={0} tickMargin={0} allowDataOverflow tick={<XTick labelled={xLabels} />} />
          <YAxis type="number" dataKey="y" domain={[yMin, yMax]} ticks={yTicks} interval={0} width={60} axisLine={false} tickLine={false} tickSize={0} tickMargin={0} allowDataOverflow tick={<YTick labelled={yLabels} />} />
          <Scatter data={land} shape={noDot} isAnimationActive={false} line={{ fill: '#dcddde', stroke: 'none' }} lineJointType="linearClosed" />
          <Scatter data={sea} shape={noDot} isAnimationActive={false} line={{ fill: '#ffffff', stroke: 'none' }} lineJointType="linearClosed" />
          <Scatter data={bay} shape={noDot} isAnimationActive={false} line={{ fill: '#ffffff', stroke: 'none' }} lineJointType="linearClosed" />
          {fills.map(([level, pts], i) => (
            <Scatter key={i} data={toRows(pts)} shape={noDot} isAnimationActive={false} line={blobLine(level)} />
          ))}
          {boxes.filter(([level]) => level !== null).map(([level, pts], i) => (
            <Scatter key={'f' + i} data={toRows(pts)} shape={noDot} isAnimationActive={false} lineJointType="linearClosed" line={{ fill: fillColour[level as number], stroke: 'none' }} />
          ))}
          <Scatter data={toRows(coastLine)} shape={noDot} isAnimationActive={false} lineJointType="linear" line={{ fill: 'none', stroke: '#161616', strokeWidth: 2.2 }} />
          <Scatter data={toRows(northEastCoast)} shape={noDot} isAnimationActive={false} lineJointType="linear" line={{ fill: 'none', stroke: '#161616', strokeWidth: 2 }} />
          <Scatter data={toRows(cornerCoast)} shape={noDot} isAnimationActive={false} lineJointType="linear" line={{ fill: 'none', stroke: '#161616', strokeWidth: 1.6 }} />
          {boxes.map(([, pts], i) => (
            <Scatter key={'b' + i} data={toRows(pts)} shape={noDot} isAnimationActive={false} lineJointType="linearClosed" line={{ fill: 'none', stroke: '#101a28', strokeWidth: 3.8 }} />
          ))}
          <Scatter data={land} shape={noDot} isAnimationActive={false} line={{ fill: 'none', stroke: '#3a3a3a', strokeWidth: 2 }} lineJointType="linearClosed" />
        </ScatterChart>
      </div>
      <div style={{ position: 'absolute', left: left + 23, top: top + 14, fontSize: 21, color: '#3a3a3a' }}>{letter}</div>
      <ChangeLegend left={left + 393} top={top} />
    </>
  );
}

export default function App() {
  return (
    <div style={{ position: 'absolute', left: 0, top: 0, width: 1134, height: 1112, background: '#fff', overflow: 'hidden', fontFamily: '"Liberation Sans", Arial, sans-serif' }}>
      <Panel left={110.7} top={10} letter="a" fills={panelAFills} boxes={panelABoxes} xLabels={false} yLabels />
      <Panel left={634.7} top={10} letter="b" fills={panelBFills} boxes={panelBBoxes} xLabels={false} yLabels={false} />
      <Panel left={110.7} top={547} letter="c" fills={panelCFills} boxes={panelCBoxes} xLabels yLabels />
      <Panel left={634.7} top={547} letter="d" fills={panelDFills} boxes={panelDBoxes} xLabels yLabels={false} />
      <div style={{ position: 'absolute', left: 22, top: 543, transform: 'translate(-50%,-50%) rotate(-90deg)', fontSize: 18.5, color: '#3a3a3a', whiteSpace: 'nowrap' }}>Northing (m)</div>
      <div style={{ position: 'absolute', left: 610, top: 1101, transform: 'translate(-50%,-50%)', fontSize: 18.5, color: '#3a3a3a', whiteSpace: 'nowrap' }}>Easting (m)</div>
    </div>
  );
}
